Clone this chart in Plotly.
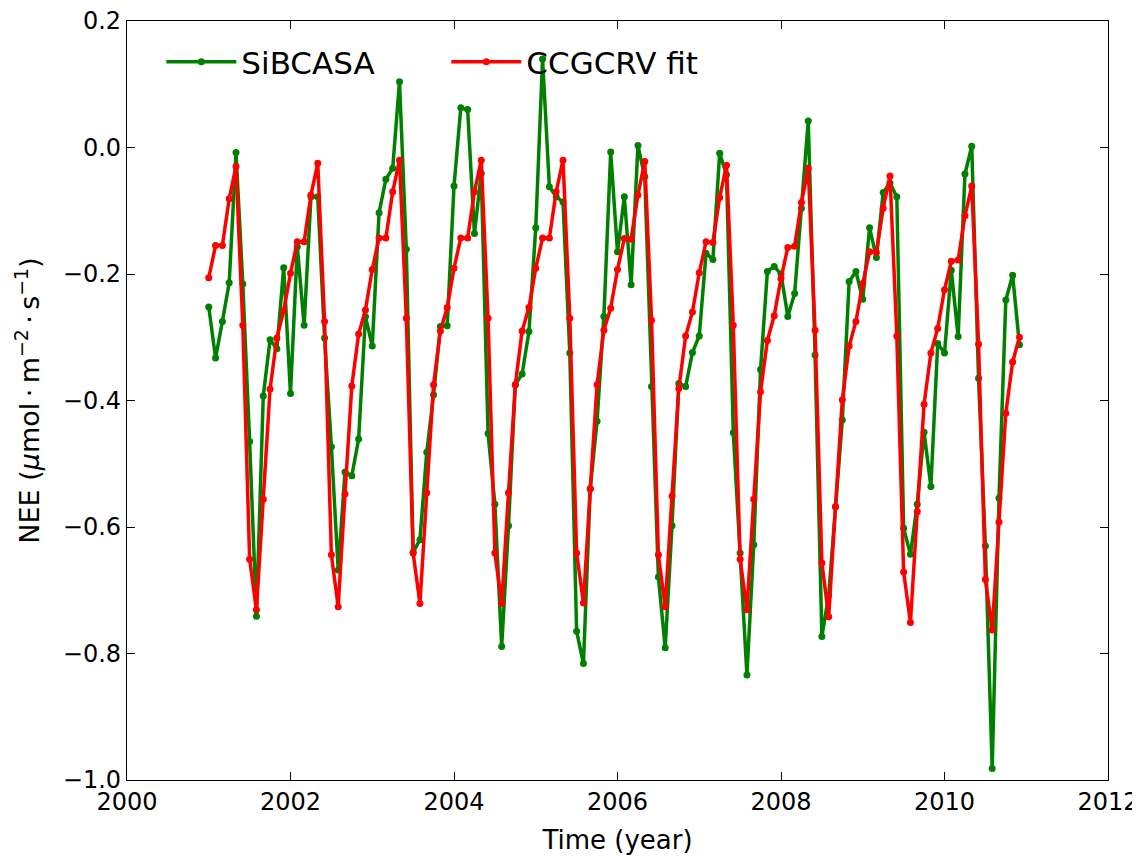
import plotly.graph_objects as go

# monthly time axis, Jan 2001 .. Dec 2010
years = list(range(2001, 2011))
time = [y + m / 12 for y in years for m in range(12)]

sibcasa = [
    -0.252, -0.333, -0.275, -0.214, -0.008, -0.216, -0.465, -0.741, -0.393, -0.304, -0.318, -0.190,
    -0.389, -0.157, -0.281, -0.078, -0.078, -0.301, -0.473, -0.668, -0.513, -0.519, -0.461, -0.267,
    -0.314, -0.103, -0.050, -0.033, 0.104, -0.161, -0.640, -0.620, -0.482, -0.391, -0.283, -0.282,
    -0.061, 0.063, 0.060, -0.136, -0.041, -0.452, -0.564, -0.789, -0.598, -0.375, -0.358, -0.291,
    -0.127, 0.140, -0.062, -0.078, -0.086, -0.325, -0.765, -0.816, -0.539, -0.433, -0.267, -0.007,
    -0.165, -0.078, -0.217, 0.003, -0.046, -0.378, -0.679, -0.791, -0.598, -0.373, -0.378, -0.324,
    -0.298, -0.167, -0.177, -0.009, -0.043, -0.451, -0.641, -0.834, -0.628, -0.351, -0.196, -0.188,
    -0.200, -0.267, -0.231, -0.096, 0.042, -0.328, -0.773, -0.708, -0.568, -0.431, -0.212, -0.196,
    -0.240, -0.127, -0.174, -0.071, -0.056, -0.078, -0.602, -0.643, -0.564, -0.450, -0.536, -0.310,
    -0.325, -0.194, -0.299, -0.042, 0.002, -0.365, -0.630, -0.982, -0.554, -0.241, -0.202, -0.312,
]

ccgcrv = [
    -0.206, -0.155, -0.155, -0.081, -0.030, -0.281, -0.651, -0.731, -0.556, -0.382, -0.301, -0.258,
    -0.199, -0.149, -0.149, -0.075, -0.025, -0.275, -0.644, -0.726, -0.548, -0.377, -0.295, -0.257,
    -0.193, -0.143, -0.143, -0.070, -0.020, -0.270, -0.641, -0.721, -0.546, -0.375, -0.290, -0.253,
    -0.191, -0.143, -0.143, -0.070, -0.020, -0.270, -0.641, -0.721, -0.546, -0.375, -0.290, -0.253,
    -0.191, -0.143, -0.143, -0.070, -0.020, -0.270, -0.641, -0.720, -0.540, -0.375, -0.289, -0.254,
    -0.193, -0.144, -0.145, -0.075, -0.022, -0.273, -0.644, -0.726, -0.551, -0.381, -0.298, -0.260,
    -0.198, -0.149, -0.150, -0.079, -0.028, -0.281, -0.651, -0.731, -0.556, -0.386, -0.305, -0.266,
    -0.207, -0.158, -0.156, -0.087, -0.033, -0.289, -0.657, -0.742, -0.568, -0.399, -0.314, -0.275,
    -0.215, -0.165, -0.166, -0.096, -0.045, -0.298, -0.671, -0.751, -0.576, -0.406, -0.325, -0.286,
    -0.225, -0.180, -0.178, -0.108, -0.061, -0.311, -0.683, -0.763, -0.592, -0.420, -0.339, -0.300,
]

x_ticks = [2000, 2002, 2004, 2006, 2008, 2010, 2012]
y_ticks = [-1.0, -0.8, -0.6, -0.4, -0.2, 0.0, 0.2]

fig = go.Figure()
fig.add_trace(go.Scatter(
    x=time, y=sibcasa, name="SiBCASA", mode="lines+markers",
    line=dict(color="#008000", width=3.5),
    marker=dict(color="#008000", size=7, symbol="circle"),
))
fig.add_trace(go.Scatter(
    x=time, y=ccgcrv, name="CCGCRV fit", mode="lines+markers",
    line=dict(color="#ff0000", width=3.5),
    marker=dict(color="#ff0000", size=7, symbol="circle"),
))

axis_common = dict(
    showline=True, linecolor="black", linewidth=1.2, mirror="ticks",
    ticks="inside", ticklen=8, tickwidth=1, tickcolor="black",
    showgrid=False, zeroline=False, automargin=False,
    ticklabeloverflow="allow",
    tickfont=dict(family="DejaVu Sans", size=24, color="black"),
)

fig.update_layout(
    width=1132, height=848,
    margin=dict(l=119, r=32, t=13, b=76, autoexpand=False),
    paper_bgcolor="white", plot_bgcolor="white",
    font=dict(family="DejaVu Sans", color="black"),
    xaxis=dict(
        range=[2000, 2012], tickvals=x_ticks, ticktext=[str(v) for v in x_ticks],
        title=dict(text="Time (year)", font=dict(size=26)),
        **axis_common,
    ),
    yaxis=dict(
        range=[-1.0, 0.2], tickvals=y_ticks, tickformat=".1f",
        title=dict(
            text="NEE (<i>μ</i>mol\u2009·\u2009m<sup>−2</sup>\u2009·\u2009s<sup>−1</sup>)",
            font=dict(size=27),
        ),
        **axis_common,
    ),
    showlegend=True,
    legend=dict(
        orientation="h", x=0.035, y=0.946, xanchor="left", yanchor="middle",
        bgcolor="rgba(0,0,0,0)", font=dict(family="DejaVu Sans", size=31, color="black"),
        entrywidth=200, entrywidthmode="pixels", itemwidth=70,
    ),
)

fig.write_html("out.html")
